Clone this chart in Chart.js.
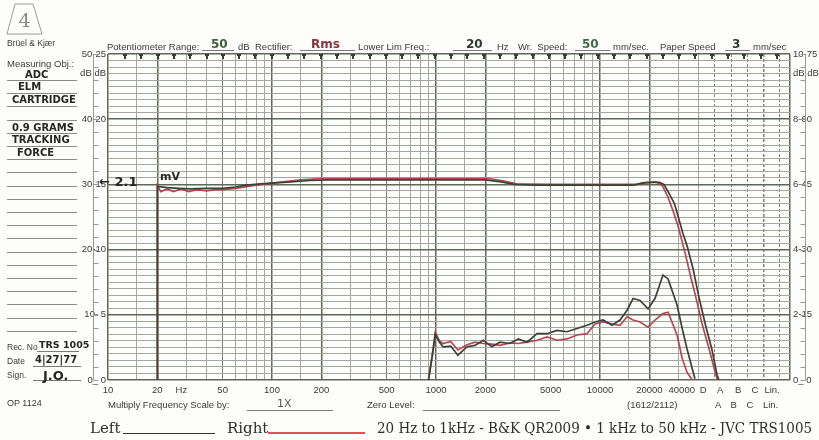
<!DOCTYPE html>
<html>
<head>
<meta charset="utf-8">
<title>ADC ELM cartridge - frequency response</title>
<script src="https://cdn.jsdelivr.net/npm/chart.js@4.4.0/dist/chart.umd.min.js"></script>
<style>
    html, body { margin: 0; padding: 0; background: #ffffff; }
    #sheet {
        position: relative;
        width: 819px;
        height: 440px;
        overflow: hidden;
        background: #fdfdfb;
        font-family: 'Liberation Sans', Arial, sans-serif;
        color: #3a3a3a;
    }
    #responseChart { position: absolute; left: 0; top: 0; }
    .t { position: absolute; white-space: nowrap; line-height: 1; font-size: 9.5px; }
    .hw { font-family: 'DejaVu Sans', sans-serif; font-weight: bold; color: #262626; font-size: 10px; }
    .rule { position: absolute; height: 1px; background: #7a7a7a; }
    .foot { font-family: 'DejaVu Serif', serif; font-size: 15px; color: #2e2e2e; transform-origin: left center; }
</style>
</head>
<body>
<div id="sheet">
    <canvas id="responseChart" width="819" height="440"></canvas>

    <!-- sheet number -->
    <svg style="position:absolute;left:6px;top:3px" width="38" height="32">
        <polygon points="9,1 27,1 36,31 1,31" fill="none" stroke="#9a9a9a" stroke-width="1"/>
        <text x="18.5" y="24" text-anchor="middle" font-family="DejaVu Serif, serif" font-size="19" fill="#8a8a8a">4</text>
    </svg>

    <!-- header -->
    <div class="t" style="left:7px;top:39px;font-size:8.5px">Brüel &amp; Kjær</div>
    <div class="t" style="left:107px;top:42px">Potentiometer Range:</div>
    <div class="rule" style="left:202px;top:50px;width:32px"></div>
    <div class="t hw" style="left:211px;top:38px;font-size:12px;color:#3f5e3c">50</div>
    <div class="t" style="left:238px;top:42px">dB</div>
    <div class="t" style="left:255px;top:42px">Rectifier:</div>
    <div class="rule" style="left:300px;top:50px;width:55px"></div>
    <div class="t hw" style="left:311px;top:38px;font-size:12px;color:#86363d">Rms</div>
    <div class="t" style="left:358px;top:42px">Lower Lim Freq.:</div>
    <div class="rule" style="left:453px;top:50px;width:39px"></div>
    <div class="t hw" style="left:466px;top:38px;font-size:12px;color:#2f3a2f">20</div>
    <div class="t" style="left:497px;top:42px">Hz</div>
    <div class="t" style="left:518px;top:42px">Wr.&nbsp;&nbsp;Speed:</div>
    <div class="rule" style="left:575px;top:50px;width:35px"></div>
    <div class="t hw" style="left:582px;top:38px;font-size:12px;color:#3d6a4a">50</div>
    <div class="t" style="left:613px;top:42px">mm/sec.</div>
    <div class="t" style="left:660px;top:42px">Paper Speed</div>
    <div class="rule" style="left:725px;top:50px;width:25px"></div>
    <div class="t hw" style="left:732px;top:38px;font-size:12px;color:#2f3a2f">3</div>
    <div class="t" style="left:753px;top:42px">mm/sec</div>

    <!-- measuring object panel -->
    <div class="t" style="left:7px;top:59px">Measuring Obj.:</div>
    <div class="t hw" style="left:25px;top:70px">ADC</div>
    <div class="t hw" style="left:18px;top:82px">ELM</div>
    <div class="t hw" style="left:12px;top:95px">CARTRIDGE</div>
    <div class="t hw" style="left:12px;top:123px">0.9 GRAMS</div>
    <div class="t hw" style="left:12px;top:135px">TRACKING</div>
    <div class="t hw" style="left:17px;top:148px">FORCE</div>
    <div id="panelRules"></div>

    <div class="t" style="left:7px;top:343px;font-size:8.5px">Rec. No</div>
    <div class="rule" style="left:37px;top:351px;width:42px"></div>
    <div class="t hw" style="left:39px;top:340px;font-size:9.5px">TRS 1005</div>
    <div class="t" style="left:7px;top:357px;font-size:8.5px">Date</div>
    <div class="rule" style="left:33px;top:366px;width:48px"></div>
    <div class="t hw" style="left:35px;top:355px">4|27|77</div>
    <div class="t" style="left:7px;top:371px;font-size:8.5px">Sign.</div>
    <div class="rule" style="left:33px;top:380px;width:48px"></div>
    <div class="t hw" style="left:43px;top:369px;font-size:13px">J.O.</div>
    <div class="t" style="left:7px;top:399px;font-size:9px">OP 1124</div>

    <!-- reference level note -->
    <div class="t hw" style="left:99px;top:175px;font-size:13px">←&nbsp;2.1</div>
    <div class="t hw" style="left:160px;top:171px;font-size:11px">mV</div>

    <!-- bottom printed row -->
    <div class="t" style="left:108px;top:400px">Multiply Frequency Scale by:</div>
    <div class="rule" style="left:247px;top:410px;width:86px"></div>
    <div class="t hw" style="left:277px;top:398px;font-size:11px;font-weight:normal;color:#555">1X</div>
    <div class="t" style="left:367px;top:400px">Zero Level:</div>
    <div class="rule" style="left:423px;top:410px;width:137px"></div>
    <div class="t" style="left:627px;top:400px">(1612/2112)</div>
    <div class="t" style="left:715px;top:400px;word-spacing:7px">A B C Lin.</div>

    <!-- legend / footnote -->
    <div class="t foot" id="footLeft" style="left:90px;top:421px">Left</div>
    <div class="rule" style="left:123px;top:433px;width:92px;background:#333"></div>
    <div class="t foot" id="footRight" style="left:227px;top:421px">Right</div>
    <div class="rule" style="left:268px;top:432px;width:97px;height:2px;background:#e0505a"></div>
    <div class="t foot" id="footNote" style="left:377px;top:421px">20 Hz to 1kHz - B&amp;K QR2009 • 1 kHz to 50 kHz - JVC TRS1005</div>
</div>

<script>
// ---- data (Hz / dB) ----
// upper trace: 20 Hz sweep
const upperLeftFreq = [20, 20, 23, 27, 32, 40, 50, 60, 70, 85, 100, 130, 170, 220, 400, 1000, 2000, 2500, 3000, 4000, 10000, 16000, 18000, 21000, 23000, 24500, 26500, 28500, 30000, 32000, 34000, 37000, 40000, 44000, 48000, 51700, 53000];
const upperLeftDb = [0, 29.7, 29.5, 29.4, 29.3, 29.4, 29.4, 29.6, 29.9, 30.1, 30.2, 30.4, 30.6, 30.7, 30.7, 30.7, 30.7, 30.4, 30.0, 29.9, 29.9, 29.9, 30.2, 30.3, 30.3, 30.0, 28.5, 27.0, 25.0, 22.5, 20.5, 17.0, 12.8, 8.4, 4.8, 0.8, 0];
const upperRightFreq = [20, 20, 21, 23, 25, 28, 31, 35, 40, 45, 50, 60, 80, 100, 150, 200, 1000, 2100, 2600, 3100, 5000, 10000, 17000, 19000, 22000, 24000, 26000, 28000, 30000, 33000, 36000, 39000, 42000, 46000, 50000, 52000];
const upperRightDb = [0, 29.8, 28.9, 29.3, 28.9, 29.3, 28.9, 29.2, 29.0, 29.2, 29.2, 29.4, 29.9, 30.2, 30.7, 30.9, 30.9, 30.9, 30.5, 30.1, 30.0, 30.0, 30.0, 30.3, 30.4, 29.8, 28.0, 25.8, 23.5, 19.5, 15.5, 12.0, 8.5, 5.0, 1.5, 0];

// lower trace: 1 kHz - 50 kHz sweep
const lowerLeftFreq = [900, 960, 990, 1050, 1105, 1230, 1360, 1545, 1730, 1940, 2190, 2450, 2820, 3180, 3590, 4130, 4750, 5470, 6290, 7240, 8330, 9330, 10430, 11840, 13240, 14620, 15900, 17540, 19640, 21630, 24200, 26000, 29500, 31700, 33900, 37900];
const lowerLeftDb = [0, 4.5, 7.0, 5.8, 5.1, 5.2, 3.8, 5.1, 5.3, 6.1, 5.1, 5.8, 5.6, 6.3, 5.8, 7.1, 7.1, 7.6, 7.4, 7.9, 8.4, 8.9, 9.2, 8.4, 9.2, 10.7, 12.5, 12.2, 10.9, 12.5, 16.1, 15.5, 11.5, 7.9, 4.8, 0.2];
const lowerRightFreq = [900, 960, 990, 1050, 1105, 1230, 1360, 1545, 1730, 1940, 2190, 2450, 2820, 3180, 3590, 4130, 4750, 5470, 6290, 7240, 8330, 9330, 10430, 11840, 13240, 14620, 15900, 17540, 19640, 21630, 24200, 26000, 29500, 31700, 33900, 36500];
const lowerRightDb = [0, 4.8, 7.3, 6.0, 5.6, 5.9, 4.6, 5.4, 5.8, 5.6, 5.5, 5.3, 5.7, 5.6, 5.8, 6.1, 6.6, 6.1, 6.3, 6.9, 7.1, 8.6, 8.9, 8.6, 8.4, 9.7, 9.2, 8.9, 8.1, 9.2, 10.2, 10.4, 6.9, 3.3, 1.2, 0];

// ---- paper scales ----
const freqMin = 10;
const freqMax = 144000;
const decades = [10, 100, 1000, 10000];
const gridSteps = [1, 1.5, 2, 3, 4, 5, 6, 7, 8, 9];
const weightingFreqs = [50000, 63000, 79000, 100000, 125000];   // D A B C Lin. columns
const xLabelFreqs = [10, 20, 28, 50, 100, 200, 500, 1000, 2000, 5000, 10000, 20000, 31500, 42500, 54000, 69500, 88000, 112000];
const xLabels = ['10', '20', 'Hz', '50', '100', '200', '500', '1000', '2000', '5000', '10000', '20000', '40000', 'D', 'A', 'B', 'C', 'Lin.'];
const dbLabelValues = [0, 10, 20, 30, 40, 47, 50];
const dbLeftLabels = ['0_ 0', '10- 5', '20-10', '30-15', '40-20', 'dB dB', '50-25'];
const dbRightLabels = ['0_ 0', '2-15', '4-30', '6-45', '8-60', 'dB dB', '10-75'];

const LEFT_COLOR = '#3a4337';
const RIGHT_COLOR = 'rgba(178, 56, 72, 0.92)';
const GRID_MAJOR = '#5e6858';
const GRID_MID = '#7a8374';
const GRID_MINOR = '#a3a99d';
const TEXT_COLOR = '#3a3a3a';

class ResponsePaper {
    constructor() {
        this.chart = null;
        this.buildAxes();
        this.render();
        this.drawPanelRules();
        this.fitFootnote();
    }

    buildAxes() {
        this.gridFreqs = [];
        decades.forEach(d => gridSteps.forEach(s => {
            const f = d * s;
            if (f <= 40000) this.gridFreqs.push(f);
        }));
        this.gridSet = new Set([...this.gridFreqs, ...weightingFreqs, freqMax]);
        this.weightSet = new Set(weightingFreqs);
        this.xLabelMap = new Map(xLabelFreqs.map((f, i) => [f, xLabels[i]]));
        this.xTicks = Array.from(new Set([...this.gridSet, ...xLabelFreqs])).sort((a, b) => a - b);
        this.leftMap = new Map(dbLabelValues.map((v, i) => [v, dbLeftLabels[i]]));
        this.rightMap = new Map(dbLabelValues.map((v, i) => [v, dbRightLabels[i]]));
        this.dbTicks = Array.from({length: 51}, (_, i) => i);
    }

    points(freqs, dbs) {
        return freqs.map((f, i) => ({x: f, y: dbs[i]}));
    }

    trace(label, freqs, dbs, color) {
        return {
            label: label,
            data: this.points(freqs, dbs),
            borderColor: color,
            borderWidth: 1.7,
            pointRadius: 0,
            tension: 0,
            fill: false
        };
    }

    isMajorFreq(v) {
        if (v === freqMax) return true;
        const m = v / Math.pow(10, Math.floor(Math.log10(v) + 1e-9));
        return Math.abs(m - 1) < 1e-6 || Math.abs(m - 2) < 1e-6;
    }

    render() {
        const ctx = document.getElementById('responseChart').getContext('2d');
        const font = {family: "'Liberation Sans', Arial, sans-serif", size: 9.5};

        // pen marks along the top edge and the side rulers of the paper
        const paperExtras = {
            id: 'paperExtras',
            afterDraw(chart) {
                const c = chart.ctx;
                const a = chart.chartArea;
                const y = chart.scales.y;
                c.save();
                c.fillStyle = '#3c3c3c';
                for (let x = a.left + 17; x < a.right - 4; x += 16.3) {
                    c.fillRect(Math.round(x) - 2, a.top, 4, 2);
                    c.fillRect(Math.round(x) - 1, a.top, 2, 5);
                }
                c.strokeStyle = '#9a9a9a';
                c.lineWidth = 1;
                const lx = Math.round(a.left - 15) + 0.5;
                const rx = Math.round(a.right + 15) + 0.5;
                c.beginPath();
                c.moveTo(lx, a.top); c.lineTo(lx, a.bottom);
                c.moveTo(rx, a.top); c.lineTo(rx, a.bottom);
                for (let v = 0; v <= 50; v += 2) {
                    const py = Math.round(y.getPixelForValue(v)) + 0.5;
                    c.moveTo(lx, py); c.lineTo(lx + 5, py);
                    c.moveTo(rx, py); c.lineTo(rx - 5, py);
                }
                c.stroke();
                c.restore();
            }
        };

        const self = this;
        this.chart = new Chart(ctx, {
            type: 'line',
            data: {
                datasets: [
                    this.trace('Left', upperLeftFreq, upperLeftDb, LEFT_COLOR),
                    this.trace('Left', lowerLeftFreq, lowerLeftDb, LEFT_COLOR),
                    this.trace('Right', upperRightFreq, upperRightDb, RIGHT_COLOR),
                    this.trace('Right', lowerRightFreq, lowerRightDb, RIGHT_COLOR)
                ]
            },
            options: {
                responsive: false,
                animation: false,
                devicePixelRatio: 1,
                // chart area: x 108..790, y 54..380
                layout: {padding: {left: 48, top: 54, right: 0, bottom: 20}},
                plugins: {
                    legend: {display: false},
                    tooltip: {enabled: false}
                },
                scales: {
                    x: {
                        type: 'logarithmic',
                        min: freqMin,
                        max: freqMax,
                        afterBuildTicks: s => { s.ticks = self.xTicks.map(v => ({value: v})); },
                        afterFit: s => { s.height = 40; },
                        ticks: {
                            autoSkip: false,
                            maxRotation: 0,
                            minRotation: 0,
                            padding: 5,
                            color: TEXT_COLOR,
                            font: font,
                            callback: v => self.xLabelMap.get(v) || ''
                        },
                        grid: {
                            drawTicks: false,
                            color: c => {
                                const v = c.tick && c.tick.value;
                                if (!self.gridSet.has(v)) return 'rgba(0,0,0,0)';
                                if (self.weightSet.has(v)) return GRID_MID;
                                if (self.isMajorFreq(v)) return GRID_MAJOR;
                                const m = v / Math.pow(10, Math.floor(Math.log10(v) + 1e-9));
                                if (Math.abs(m - 5) < 1e-6) return GRID_MID;
                                return GRID_MINOR;
                            },
                            lineWidth: c => (c.tick && self.isMajorFreq(c.tick.value)) ? 1.5 : 1
                        },
                        border: {
                            display: false,
                            dash: c => (c.tick && self.weightSet.has(c.tick.value)) ? [3, 2] : []
                        }
                    },
                    y: {
                        min: 0,
                        max: 50,
                        afterBuildTicks: s => { s.ticks = self.dbTicks.map(v => ({value: v})); },
                        afterFit: s => { s.width = 60; },
                        ticks: {
                            autoSkip: false,
                            padding: 2,
                            color: TEXT_COLOR,
                            font: font,
                            callback: v => self.leftMap.get(v) || ''
                        },
                        grid: {
                            drawTicks: false,
                            color: c => (c.tick.value % 10 === 0) ? GRID_MAJOR : GRID_MINOR,
                            lineWidth: c => (c.tick.value % 10 === 0) ? 1.4 : 1
                        },
                        border: {display: false}
                    },
                    y2: {
                        position: 'right',
                        min: 0,
                        max: 50,
                        afterBuildTicks: s => { s.ticks = self.dbTicks.map(v => ({value: v})); },
                        afterFit: s => { s.width = 29; },
                        ticks: {
                            autoSkip: false,
                            padding: 3,
                            color: TEXT_COLOR,
                            font: font,
                            callback: v => self.rightMap.get(v) || ''
                        },
                        grid: {display: false, drawTicks: false},
                        border: {display: false}
                    }
                }
            },
            plugins: [paperExtras]
        });
    }

    // ruled writing lines in the measuring-object panel
    drawPanelRules() {
        const box = document.getElementById('panelRules');
        for (let k = 0; k < 20; k++) {
            const r = document.createElement('div');
            r.className = 'rule';
            r.style.left = '7px';
            r.style.width = '70px';
            r.style.top = (80 + k * 13.2).toFixed(1) + 'px';
            r.style.background = '#8a8a8a';
            box.appendChild(r);
        }
    }

    fitFootnote() {
        const note = document.getElementById('footNote');
        const w = note.getBoundingClientRect().width;
        if (w > 0) note.style.transform = `scaleX(${(435 / w).toFixed(3)})`;
    }
}

document.addEventListener('DOMContentLoaded', () => {
    new ResponsePaper();
});
</script>
</body>
</html>
